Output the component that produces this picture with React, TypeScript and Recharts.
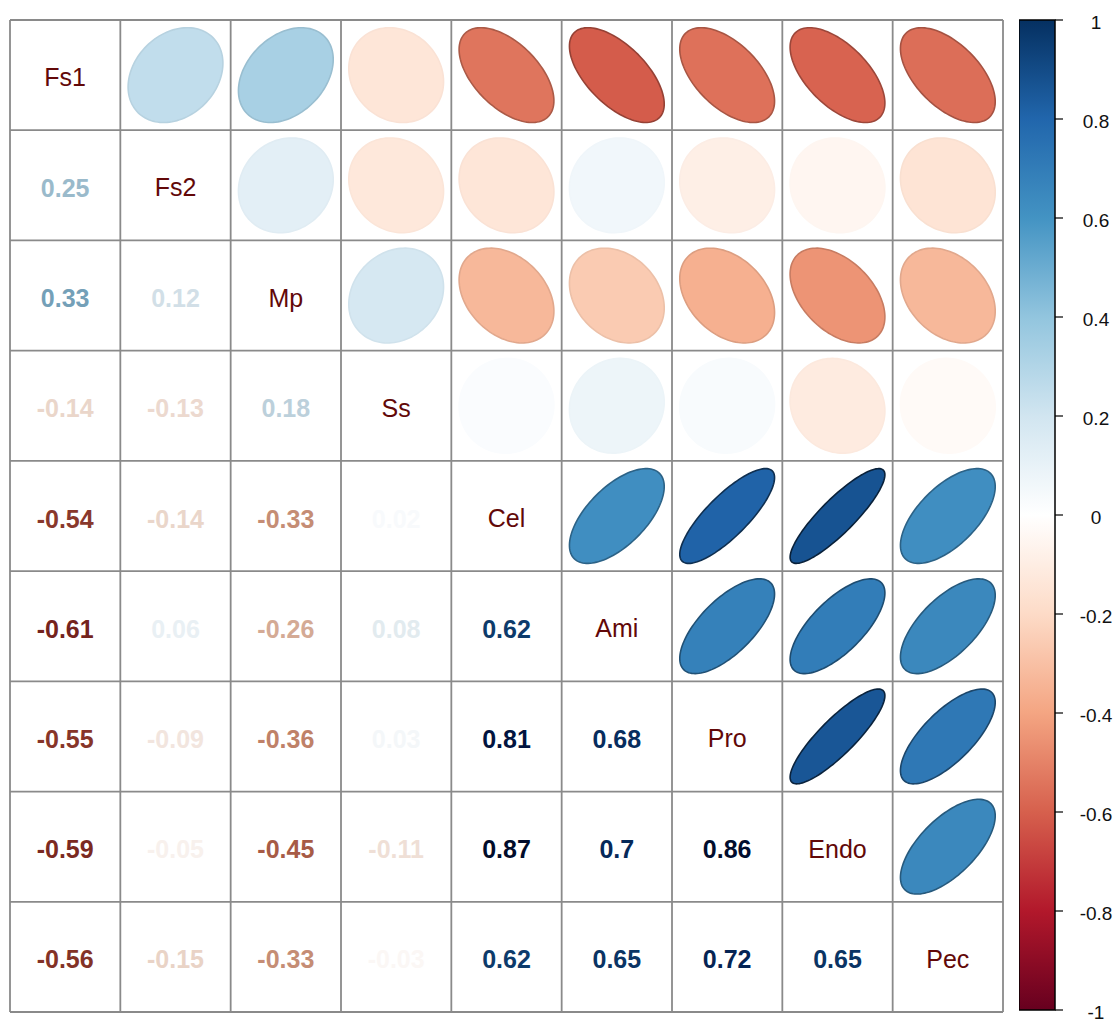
import React from "react";
import {
  CartesianGrid,
  ComposedChart,
  ReferenceArea,
  Scatter,
  ScatterChart,
  XAxis,
  YAxis,
} from "recharts";

const variables = ["Fs1", "Fs2", "Mp", "Ss", "Cel", "Ami", "Pro", "Endo", "Pec"];

// lower triangle of the correlation matrix, one row per variable
const rowFs2 = [0.25];
const rowMp = [0.33, 0.12];
const rowSs = [-0.14, -0.13, 0.18];
const rowCel = [-0.54, -0.14, -0.33, 0.02];
const rowAmi = [-0.61, 0.06, -0.26, 0.08, 0.62];
const rowPro = [-0.55, -0.09, -0.36, 0.03, 0.81, 0.68];
const rowEndo = [-0.59, -0.05, -0.45, -0.11, 0.87, 0.7, 0.86];
const rowPec = [-0.56, -0.15, -0.33, -0.03, 0.62, 0.65, 0.72, 0.65];

const lowerRows: number[][] = [[], rowFs2, rowMp, rowSs, rowCel, rowAmi, rowPro, rowEndo, rowPec];

const colorbarTicks = [-1, -0.8, -0.6, -0.4, -0.2, 0, 0.2, 0.4, 0.6, 0.8, 1];

// RdBu, from -1 to 1
const RDBU = [
  "#67001F", "#B2182B", "#D6604D", "#F4A582", "#FDDBC7", "#FFFFFF",
  "#D1E5F0", "#92C5DE", "#4393C3", "#2166AC", "#053061",
];

const FONT = "'Liberation Sans', Arial, sans-serif";
const N = variables.length;
const PLOT_W = 993;
const PLOT_H = 992;
const CELL = Math.min(PLOT_W, PLOT_H) / N;
const gridTicks = Array.from({ length: N + 1 }, (_, i) => i + 0.5);

const hex = (c: string) => [1, 3, 5].map((i) => parseInt(c.slice(i, i + 2), 16));
const toHex = (rgb: number[]) =>
  "#" + rgb.map((v) => Math.round(Math.max(0, Math.min(255, v))).toString(16).padStart(2, "0")).join("");

function corrColor(r: number) {
  const t = ((r + 1) / 2) * (RDBU.length - 1);
  const i = Math.min(RDBU.length - 2, Math.floor(t));
  const f = t - i;
  const a = hex(RDBU[i]);
  const b = hex(RDBU[i + 1]);
  return toHex(a.map((v, k) => v + (b[k] - v) * f));
}

const shade = (c: string, k: number) => toHex(hex(c).map((v) => v * k));

// number text: same hue as the ellipse, deeper and darker as |r| grows;
// the reds are pulled a little toward brown
function textColor(r: number) {
  const a = Math.abs(r);
  const g = 1 + 1.5 * a;
  const m = 1 - (r < 0 ? 0.4 : 0.45) * a;
  const rgb = hex(corrColor(r)).map((v) => 255 * Math.pow(v / 255, g) * m);
  if (r >= 0) return toHex(rgb);
  const lum = 0.3 * rgb[0] + 0.59 * rgb[1] + 0.11 * rgb[2];
  return toHex(rgb.map((v) => lum + (v - lum) * 0.75));
}

const diagData = variables.map((name, i) => ({ x: i + 1, y: i + 1, name }));
const lowerData = lowerRows.flatMap((row, i) => row.map((r, j) => ({ x: j + 1, y: i + 1, r })));
const upperData = lowerRows.flatMap((row, i) => row.map((r, j) => ({ x: i + 1, y: j + 1, r })));
const colorbarData = colorbarTicks.map((v) => ({ x: 0.5, v }));

const DiagLabel = (props: any) => (
  <text
    x={props.cx}
    y={props.cy + 11}
    textAnchor="middle"
    fontFamily={FONT}
    fontSize={25}
    fill="#620808"
  >
    {props.payload.name}
  </text>
);

const NumberLabel = (props: any) => {
  const r = props.payload.r;
  return (
    <text
      x={props.cx}
      y={props.cy + 11.5}
      textAnchor="middle"
      fontFamily={FONT}
      fontSize={25}
      fontWeight="bold"
      fill={textColor(r)}
    >
      {String(r)}
    </text>
  );
};

const EllipseMark = (props: any) => {
  const { cx, cy } = props;
  const r = props.payload.r;
  const half = Math.acos(r) / 2;
  const s = CELL * 0.86;
  const pts: string[] = [];
  for (let k = 0; k < 120; k++) {
    const t = (2 * Math.PI * k) / 120;
    pts.push(`${cx + (Math.cos(t + half) / 2) * s},${cy - (Math.cos(t - half) / 2) * s}`);
  }
  const fill = corrColor(r);
  return (
    <path
      d={`M${pts.join("L")}Z`}
      fill={fill}
      stroke={shade(fill, 1 - 0.8 * r * r)}
      strokeWidth={1.6}
    />
  );
};

const ColorbarTick = (props: any) => {
  const { x, y, payload } = props;
  return (
    <text
      x={x + 31}
      y={y + 2}
      textAnchor="middle"
      dominantBaseline="central"
      fontFamily={FONT}
      fontSize={19}
      fill="#111"
    >
      {String(Math.round(payload.value * 10) / 10)}
    </text>
  );
};

// grid lines sit on the cell boundaries of the hidden axes
const gridX = ({ xAxis, offset }: any) =>
  gridTicks.map((t) =>
    typeof xAxis?.scale === "function"
      ? xAxis.scale(t)
      : offset.left + ((t - 0.5) / N) * offset.width
  );
const gridY = ({ yAxis, offset }: any) =>
  gridTicks.map((t) =>
    typeof yAxis?.scale === "function"
      ? yAxis.scale(t)
      : offset.top + ((t - 0.5) / N) * offset.height
  );

export default function App() {
  return (
    <div
      style={{
        position: "absolute",
        left: 0,
        top: 0,
        width: 1117,
        height: 1021,
        overflow: "hidden",
        background: "#fff",
      }}
    >
      <div style={{ position: "absolute", left: 0, top: 0 }}>
        <ScatterChart
          width={1010}
          height={1021}
          margin={{ top: 20, right: 7, bottom: 9, left: 10 }}
        >
          <CartesianGrid
            stroke="#8a8a8a"
            strokeWidth={1.8}
            verticalCoordinatesGenerator={gridX}
            horizontalCoordinatesGenerator={gridY}
          />
          <XAxis
            type="number"
            dataKey="x"
            domain={[0.5, N + 0.5]}
            ticks={gridTicks}
            tick={false}
            axisLine={false}
            tickLine={false}
            height={0}
          />
          <YAxis
            type="number"
            dataKey="y"
            domain={[0.5, N + 0.5]}
            ticks={gridTicks}
            reversed
            tick={false}
            axisLine={false}
            tickLine={false}
            width={0}
          />
          <Scatter data={upperData} shape={EllipseMark} isAnimationActive={false} />
          <Scatter data={lowerData} shape={NumberLabel} isAnimationActive={false} />
          <Scatter data={diagData} shape={DiagLabel} isAnimationActive={false} />
        </ScatterChart>
      </div>
      <div style={{ position: "absolute", left: 1019, top: 0 }}>
        <ComposedChart
          width={98}
          height={1021}
          data={colorbarData}
          margin={{ top: 20, right: 0, bottom: 11, left: 0 }}
        >
          <defs>
            <linearGradient id="corrScale" x1="0" y1="0" x2="0" y2="1">
              {RDBU.slice()
                .reverse()
                .map((c, i) => (
                  <stop key={c} offset={`${(i / (RDBU.length - 1)) * 100}%`} stopColor={c} />
                ))}
            </linearGradient>
          </defs>
          <XAxis type="number" dataKey="x" domain={[0, 1]} hide />
          <YAxis
            type="number"
            dataKey="v"
            orientation="right"
            domain={[-1, 1]}
            ticks={colorbarTicks}
            interval={0}
            width={62}
            axisLine={false}
            tickSize={8}
            tickLine={{ stroke: "#000", strokeWidth: 1.2 }}
            tick={ColorbarTick}
          />
          <ReferenceArea
            y1={-1}
            y2={1}
            fill="url(#corrScale)"
            fillOpacity={1}
            stroke="#000"
            strokeWidth={1.5}
            ifOverflow="visible"
          />
        </ComposedChart>
      </div>
    </div>
  );
}
